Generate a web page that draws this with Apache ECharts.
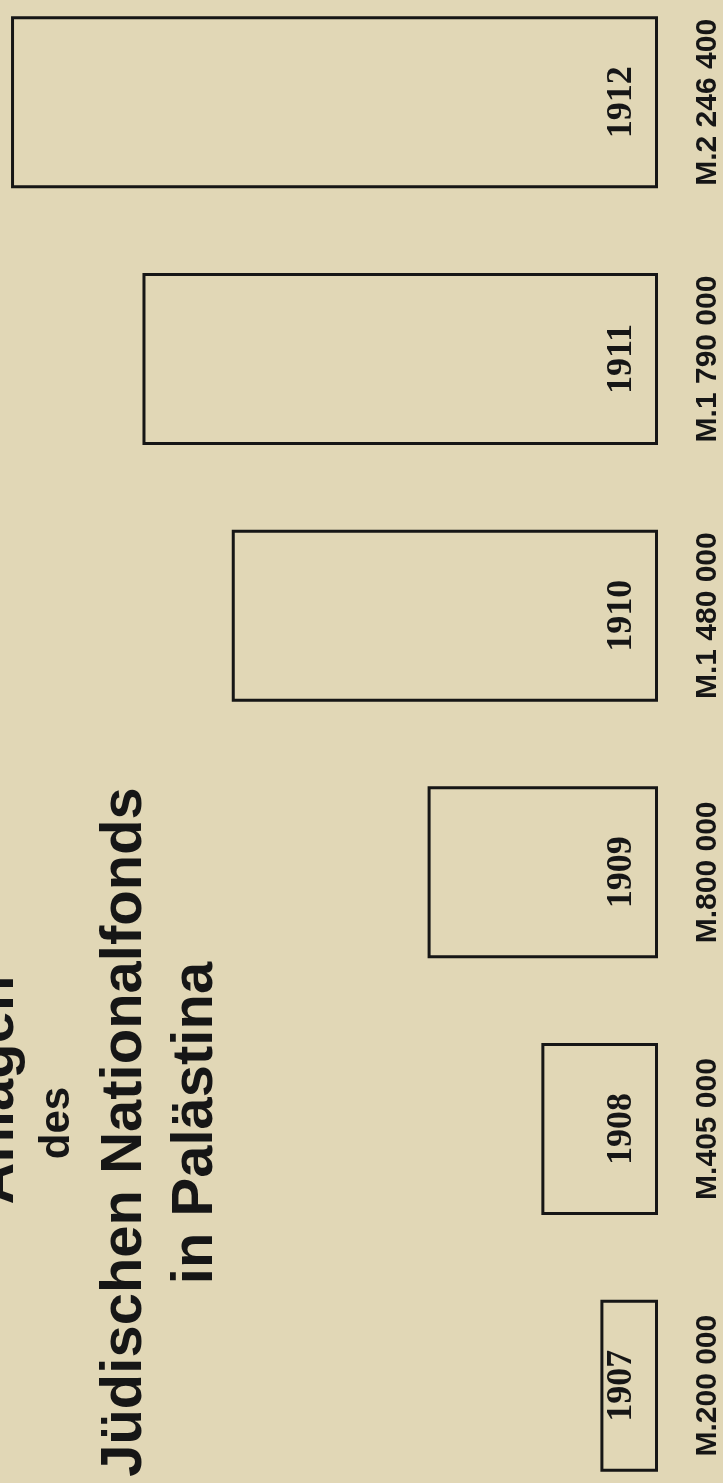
<!DOCTYPE html>
<html>
<head>
<meta charset="utf-8">
<script src="https://cdn.jsdelivr.net/npm/echarts/dist/echarts.min.js"></script>
<style>
  html, body { margin: 0; padding: 0; background: #e1d7b6; overflow: hidden; }
  body { position: relative; width: 723px; height: 1483px; }
  /* chart is a bit taller than the page so the six bands line up with the print */
  #chart { position: absolute; left: 0; top: -26px; width: 723px; height: 1540px; }
</style>
</head>
<body>
<div id="chart"></div>
<script>
// Anlagen des Jüdischen Nationalfonds in Palästina (Mark)
const years = ['1907', '1908', '1909', '1910', '1911', '1912'];
const amounts = [200000, 405000, 800000, 1480000, 1790000, 2246400];
const titleLines = ['Anlagen', 'des', 'Jüdischen Nationalfonds', 'in Palästina'];

// 2246400 -> "M.2 246 400"
function markLabel(v) {
  return 'M.' + String(v).replace(/\B(?=(\d{3})+(?!\d))/g, ' ');
}

const chart = echarts.init(document.getElementById('chart'));

const ink = '#161616';
const sans = '"Liberation Sans", Arial, sans-serif';
const dy = 26; // offset of the chart box above the page

chart.setOption({
  backgroundColor: '#e1d7b6',
  animation: false,
  grid: { left: 10, right: 63, top: 0, bottom: 0 },
  xAxis: {
    type: 'value',
    inverse: true,
    min: 0,
    max: 2250000,
    show: false
  },
  yAxis: {
    type: 'category',
    data: years,
    position: 'right',
    axisLine: { show: false },
    axisTick: { show: false },
    splitLine: { show: false },
    axisLabel: {
      interval: 0,
      rotate: 90,
      margin: 35,
      color: ink,
      fontFamily: sans,
      fontWeight: 'bold',
      fontSize: 30,
      formatter: function (v, i) { return markLabel(amounts[i]); }
    }
  },
  series: [
    {
      type: 'bar',
      data: amounts,
      barWidth: 172,
      itemStyle: {
        color: 'rgba(0,0,0,0)',
        borderColor: ink,
        borderWidth: 3
      },
      label: {
        show: true,
        position: 'insideRight',
        distance: 36,
        rotate: 90,
        align: 'center',
        verticalAlign: 'middle',
        formatter: '{b}',
        color: ink,
        fontFamily: '"Liberation Serif", "Times New Roman", serif',
        fontWeight: 'bold',
        fontSize: 36
      }
    }
  ],
  graphic: [
    { type: 'text', x: -3, y: 1090 + dy, rotation: Math.PI / 2,
      style: { text: titleLines[0], fill: ink, font: 'bold 58px ' + sans, align: 'center', verticalAlign: 'middle' } },
    { type: 'text', x: 57, y: 1123 + dy, rotation: Math.PI / 2,
      style: { text: titleLines[1], fill: ink, font: 'bold 42px ' + sans, align: 'center', verticalAlign: 'middle' } },
    { type: 'text', x: 125, y: 1132 + dy, rotation: Math.PI / 2,
      style: { text: titleLines[2], fill: ink, font: 'bold 58px ' + sans, align: 'center', verticalAlign: 'middle' } },
    { type: 'text', x: 196, y: 1123 + dy, rotation: Math.PI / 2,
      style: { text: titleLines[3], fill: ink, font: 'bold 58px ' + sans, align: 'center', verticalAlign: 'middle' } }
  ]
});
</script>
</body>
</html>
